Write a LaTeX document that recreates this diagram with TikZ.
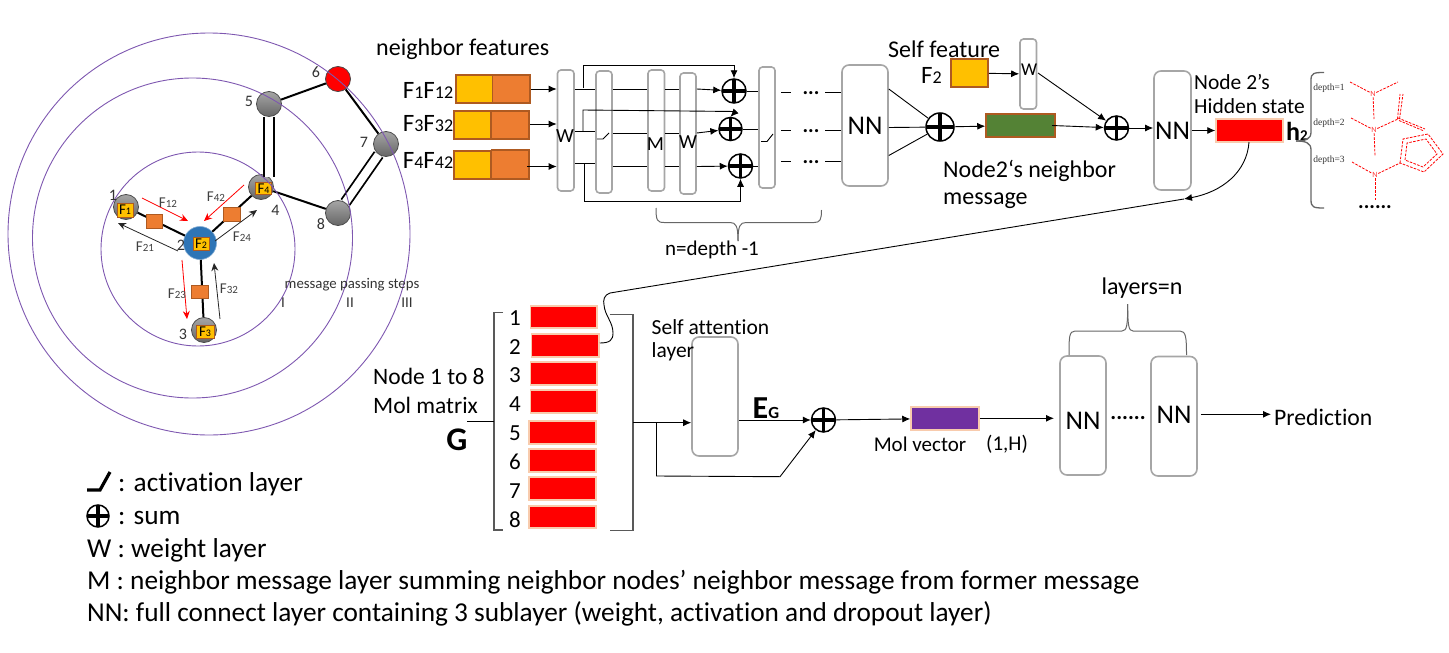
\documentclass[tikz,border=0pt]{standalone}
\usepackage{fontspec}
\setmainfont{Carlito}[Ligatures={NoCommon,NoContextual}]
\newfontfamily\serifsm{Liberation Serif}
\usetikzlibrary{arrows.meta,calc}
\definecolor{gold}{HTML}{FFC000}
\definecolor{orng}{HTML}{ED7D31}
\definecolor{brn}{HTML}{AE5A21}
\definecolor{grn}{HTML}{548235}
\definecolor{purp}{HTML}{7030A0}
\definecolor{peach}{HTML}{F8CBAD}
\definecolor{ringc}{HTML}{7E57B0}
\definecolor{boxg}{HTML}{A6A6A6}
\definecolor{blu}{HTML}{2E75B6}
\newcommand\fs[2]{{\fontsize{#1}{#1}\selectfont #2}}
\newcommand\bx[7]{\pgfmathsetmacro\bxw{#5-#3}\pgfmathsetmacro\bxh{#6-#4}\pgfmathsetmacro\bxcx{(#3+#5)/2}\pgfmathsetmacro\bxcy{(#4+#6)/2}\node[#2,minimum width=\bxw pt,minimum height=\bxh pt,inner sep=0pt] (#1) at (\bxcx,\bxcy) {#7};}
\tikzset{
 arr/.style={-{Latex[length=8pt,width=7pt]},line width=.9pt},
 thin line/.style={line width=.9pt},
 sarr/.style={-{Stealth[length=8pt,width=7pt]},line width=.8pt},
 layerbox/.style={draw=boxg,line width=1.6pt,rounded corners=3.5pt,fill=white},
 nnbox/.style={draw=boxg,line width=1.6pt,rounded corners=7pt,fill=white},
 yel/.style={draw=brn,line width=1.5pt,fill=gold},
 ora/.style={draw=brn,line width=1.5pt,fill=orng},
 redbar/.style={draw=peach,line width=1.5pt,fill=red},
 atom/.style={circle,draw=black!70,line width=.8pt,top color=black!35,bottom color=black!60,minimum size=25pt,inner sep=0pt},
 ftag/.style={draw=brn,line width=.6pt,fill=gold,inner sep=0pt},
 bond/.style={line width=2pt},
 dbond/.style={line width=1.8pt,double=white,double distance=8pt},
 msq/.style={draw=brn,line width=.6pt,fill=orng,inner sep=0pt},
 ring/.style={circle,draw=ringc,line width=.9pt,inner sep=0pt},
 sumnode/.style={circle,draw=black,line width=1.5pt,fill=white,inner sep=0pt,minimum size=#1,
   path picture={\draw[line width=3.2pt] (path picture bounding box.west)--(path picture bounding box.east);
   \draw[line width=3.2pt] (path picture bounding box.north)--(path picture bounding box.south);}},
 lab/.style={inner sep=0pt,font=\fontsize{21.5}{23}\selectfont},
 bigl/.style={inner sep=0pt,font=\fontsize{24}{26}\selectfont},
 leg/.style={inner sep=0pt,anchor=west,font=\fontsize{27.3}{30}\selectfont},
 smlab/.style={inner sep=0pt,font=\fontsize{15}{17}\selectfont,text=black!80},
 flab/.style={inner sep=0pt,font=\fontsize{15}{17}\selectfont,text=black!75},
 deplab/.style={inner sep=0pt,font=\serifsm\fontsize{9.5}{11}\selectfont,text=black!80},
 mol/.style={draw=red,dashed,dash pattern=on 2.6pt off 1.3pt,line width=.8pt},
 brc/.style={draw=black!60,line width=1.3pt},
}
\begin{document}
\begin{tikzpicture}[x=1pt,y=-1pt]
\useasboundingbox (0,0) rectangle (1449,653);
% ---- molecule graph
\node[atom,fill=red,top color=red,bottom color=red] (a6) at (338,79) {};
\node[atom] (a5) at (269,104) {};
\node[atom] (a7) at (386,144) {};
\node[atom] (a8) at (338,213) {};
\node[atom] (a4) at (261,187) {};
\node[atom] (a1) at (126,207) {};
\node[atom] (a3) at (204,330) {};
\node[circle,fill=blu,draw=blu!60,line width=.6pt,minimum size=33pt,inner sep=0pt] (a2) at (200,243) {};
\draw[bond] (a5)--(a6);
\draw[bond] (a6)--(a7);
\draw[bond] (a4)--(a8);
\draw[dbond] (a5.south)--($(a5.south |- a4.north)+(0,3)$);
\draw[dbond] (a7)--(a8);
\draw[bond] (a1)--(a2);
\draw[bond] (a4)--(a2);
\draw[bond] (a2)--(a3);
\bx{m1}{msq}{146}{214}{162.5}{228.5}{}
\bx{m2}{msq}{223.5}{207}{240.5}{221}{}
\bx{m3}{msq}{191.5}{285.5}{208.5}{298.5}{}
\bx{t1}{ftag}{117}{203}{133}{217}{\fs{15}{F\fs{10}{1}}}
\bx{t2}{ftag}{193}{237}{209}{250}{\fs{15}{F\fs{10}{2}}}
\bx{t3}{ftag}{196}{325}{214}{338}{\fs{15}{F\fs{10}{3}}}
\bx{t4}{ftag}{255.5}{182.5}{271.5}{194}{\fs{15}{F\fs{10}{4}}}
\node[ring,minimum size=194pt] (c1) at (198,249) {};
\node[ring,minimum size=320pt] (c2) at (192.5,238) {};
\node[ring,minimum size=402pt] (c3) at (209,234) {};
\foreach \n/\x/\y in {1/113/195,2/181/245,3/183/334,4/275.5/210,5/249/101,6/316/72,7/364/142,8/321/224}
  \node[smlab,font=\fontsize{16}{17}\selectfont] (num\n) at (\x,\y) {\n};
\coordinate (f12a) at (142,198); \coordinate (f12b) at (188,221);
\coordinate (f42a) at (244,185); \coordinate (f42b) at (204,221);
\coordinate (f21a) at (178,251); \coordinate (f21b) at (118,223);
\coordinate (f24a) at (215,241); \coordinate (f24b) at (257,210);
\coordinate (f23a) at (182,260); \coordinate (f23b) at (187,319);
\coordinate (f32a) at (220,319); \coordinate (f32b) at (214,263);
\draw[sarr,red] (f12a)--(f12b);
\draw[sarr,red] (f42a)--(f42b);
\draw[sarr,red] (f23a)--(f23b);
\draw[sarr,black!85] (f21a)--(f21b);
\draw[sarr,black!85] (f24a)--(f24b);
\draw[sarr,black!85] (f32a)--(f32b);
\node[flab] (lf12) at (168,203) {F\fs{11}{12}};
\node[flab] (lf42) at (216,197) {F\fs{11}{42}};
\node[flab] (lf21) at (145,247) {F\fs{11}{21}};
\node[flab] (lf24) at (242,237) {F\fs{11}{24}};
\node[flab] (lf23) at (177,294) {F\fs{11}{23}};
\node[flab] (lf32) at (229,289) {F\fs{11}{32}};
\node[smlab,font=\fontsize{14.8}{17}\selectfont] (mps) at (352,285) {message passing steps};
\node[smlab] (s1) at (283,303) {I};
\node[smlab] (s2) at (350,303) {II};
\node[smlab] (s3) at (407,303) {III};
% ---- neighbour features
\node[bigl,anchor=west] (nf) at (376,49.5) {neighbor features};
\node[bigl,font=\fontsize{25}{26}\selectfont] (ff1) at (428,90) {F\fs{18}{1}F\fs{18}{12}};
\node[bigl,font=\fontsize{25}{26}\selectfont] (ff3) at (428,123.5) {F\fs{18}{3}F\fs{18}{32}};
\node[bigl,font=\fontsize{25}{26}\selectfont] (ff4) at (428,160.5) {F\fs{18}{4}F\fs{18}{42}};
\bx{y1}{yel}{456}{75}{492.5}{103}{}
\bx{o1}{ora}{492.5}{75}{530}{103}{}
\bx{y3}{yel}{454}{111}{491}{139}{}
\bx{o3}{ora}{491}{111}{529}{139}{}
\bx{y4}{yel}{454}{151}{491}{179}{}
\bx{o4}{ora}{491.5}{150}{529}{179}{}
% layers
\bx{w1}{layerbox}{557.5}{70}{574}{191}{}
\bx{ac1}{layerbox}{596}{71}{612}{193}{}
\bx{mm}{layerbox}{648}{70}{664.5}{191}{}
\bx{w2}{layerbox}{680}{73}{696}{194}{}
\bx{ac2}{layerbox}{759}{67}{775}{188}{}
\node[lab,font=\fontsize{20}{22}\selectfont] (tw1) at (565,136) {W};
\node[lab,font=\fontsize{20}{22}\selectfont] (tm) at (655.5,144) {M};
\node[lab,font=\fontsize{20}{22}\selectfont] (tw2) at (688,142) {W};
\node[sumnode=24pt] (p1) at (734,91) {};
\node[sumnode=23pt] (p2) at (730.5,129) {};
\node[sumnode=24pt] (p3) at (740.5,166) {};
\coordinate (r1) at (0,89); \coordinate (r2) at (0,133); \coordinate (r3) at (0,166.5);
\coordinate (ri2) at (0,124);
\coordinate (o4s) at (527,166.5);
\draw[arr] (o1.east |- r1)--(w1.west |- r1);
\draw[arr] (o3.east |- ri2)--(w1.west |- ri2);
\draw[arr] (o4s)--(w1.west |- o4s);
\draw[thin line] (w1.east |- r1)--(ac1.west |- r1);
\draw[thin line] (w1.east |- 0,131)--(ac1.west |- 0,131);
\draw[thin line] (w1.east |- 0,163)--(ac1.west |- 0,163);
\foreach \r in {r1,r2,r3}{
 \draw[thin line] (ac1.east |- \r)--(mm.west |- \r);
 \draw[thin line] (mm.east |- \r)--(w2.west |- \r);
}
\draw[arr] (w2.east |- r1)--(p1);
\draw[arr] (w2.east |- r2)--(p2);
\draw[arr] (w2.east |- r3)--(p3);
\draw[thin line] (p1.east)--(ac2.west |- p1.east);
\draw[thin line] (p2.east)--(ac2.west |- p2.east);
\draw[thin line] (p3.east)--(ac2.west |- p3.east);
% skip connections
\coordinate (sk1) at (583,88); \coordinate (sk1t) at (583,65.5);
\coordinate (sk2) at (583,131); \coordinate (sk2t) at (583,110);
\coordinate (sk3) at (584,163); \coordinate (sk3t) at (584,201);
\draw[arr] (sk1)--(sk1t)--(sk1t -| p1.north)--(p1.north);
\draw[arr] (sk2)--(sk2t)--(735.5,111.5)--(p2.north);
\draw[arr] (sk3)--(sk3t)--(sk3t -| p3.south)--(p3.south);
% activation glyphs
\coordinate (g1a) at (597,139); \coordinate (g1b) at (603,139); \coordinate (g1c) at (609,133);
\coordinate (g2a) at (761,141.5); \coordinate (g2b) at (767,141.5); \coordinate (g2c) at (773,134);
\draw[thin line] (g1a)--(g1b)--(g1c);
\draw[thin line] (g2a)--(g2b)--(g2c);
% dashes and dots
\bx{nn1}{nnbox}{842}{65}{888}{186}{\fs{27}{NN}}
\foreach \i/\y in {1/92,2/130,3/161}{
 \coordinate (da\i) at (781,\y); \coordinate (db\i) at (791,\y); \coordinate (dc\i) at (825,\y);
 \draw[thin line] (da\i)--(db\i);
 \draw[thin line] (dc\i)--(nn1.west |- dc\i);
 \node[inner sep=0pt,font=\bfseries\fontsize{21}{21}\selectfont] (dt\i) at (811,\y+1.5) {...};
}
% depth brace
\coordinate (bl) at (656,208); \coordinate (bt) at (738,241); \coordinate (br) at (821.5,210);
\draw[brc,line width=1pt] (bl) .. controls (656,220) and (657,222.5) .. (664,222.5) -- (730,222.5) .. controls (736,222.5) and (738,226) .. (bt);
\draw[brc,line width=1pt] (br) .. controls (821.5,220) and (820,222.5) .. (814,222.5) -- (746,222.5) .. controls (740,222.5) and (738,226) .. (bt);
\node[lab,font=\fontsize{21}{22}\selectfont] (nd) at (712,250) {n=depth -1};
% self feature
\node[bigl,anchor=west] (sf) at (888,49) {Self feature};
\node[bigl,font=\fontsize{25}{26}\selectfont] (f2l) at (931.5,75) {F\fs{18}{2}};
\bx{y2}{yel}{951}{59}{988}{87}{}
\bx{ws}{layerbox}{1020}{39}{1036.5}{109}{}
\node[lab,font=\fontsize{18}{20}\selectfont] (tws) at (1029,70) {W};
\node[sumnode=28pt] (p4) at (940,127) {};
\bx{gm}{draw=brn,line width=1.5pt,fill=grn}{986}{114}{1055}{137}{}
\node[sumnode=24pt] (p5) at (1116.5,128) {};
\bx{nn2}{nnbox}{1154}{71}{1191}{190}{\fs{27}{NN}}
\bx{hs}{redbar}{1216}{119}{1283}{142}{}
\draw[thin line] (nn1.east |- 0,89)--(p4);
\draw[thin line] (nn1.east |- 0,127.5)--(p4);
\draw[thin line] (nn1.east |- 0,155.5)--(p4);
\draw[arr] (p4)--(gm);
\draw[arr] (gm.center -| 1052,0)--(p5);
\draw[arr] (y2)--(ws);
\draw[arr] (1038,73)--(p5);
\draw[arr] (p5)--(p5 -| nn2.west);
\draw[arr] (nn2.east |- hs)--(hs);
\node[bigl,anchor=west] (nm1) at (943,171) {Node2‘s neighbor};
\node[bigl,anchor=west] (nm2) at (943,201) {message};
\node[lab,anchor=west] (hs1) at (1194,82) {Node 2’s};
\node[lab,anchor=west] (hs2) at (1194,106) {Hidden state};
\node[inner sep=0pt,anchor=west,font=\bfseries\fontsize{26}{28}\selectfont] (h2) at (1286,131) {h\fs{15}{2}};
% brace + substructures
\coordinate (bt1) at (1324,72.5); \coordinate (btip) at (1296,141); \coordinate (bb1) at (1324,208);
\draw[brc] (bt1) .. controls (1314,72.5) and (1311,73) .. (1311,80) -- (1311,132) .. controls (1311,139) and (1306,141) .. (btip);
\draw[brc] (bb1) .. controls (1314,208) and (1311,207.5) .. (1311,200) -- (1311,150) .. controls (1311,143) and (1306,141) .. (btip);
\node[deplab] (d1) at (1329,88) {depth=1};
\node[deplab] (d2) at (1329,123) {depth=2};
\node[deplab] (d3) at (1329,160) {depth=3};
\node[inner sep=.5pt,font=\fontsize{8}{8}\selectfont,text=red!80] (n1) at (1373,94) {N};
\node[inner sep=.5pt,font=\fontsize{8}{8}\selectfont,text=red!80] (n2) at (1374,130) {N};
\node[inner sep=.5pt,font=\fontsize{8}{8}\selectfont,text=red!80] (n3) at (1375,175) {N};
\draw[mol] (1350,82)--(n1);
\draw[mol] (n1)--(1398,82);
\draw[mol] (n1)--(1374,119);
\draw[mol] (1351,118)--(n2);
\draw[mol] (n2)--(1398,119);
\draw[mol] (n2)--(1375,156);
\draw[mol] (1397.5,119)--(1400,94) (1399.5,119)--(1403,94);
\draw[mol] (1398,118)--(1425,129) (1399,120.5)--(1424,131);
\draw[mol] (1352,162)--(n3);
\draw[mol] (n3)--(1400,163);
\draw[mol] (n3)--(1375,200);
\draw[mol] (1400,163)--(1403,139)--(1428,134)--(1443,154)--(1424,172)--cycle;
\draw[mol] (1405,160)--(1407,143)--(1426,139)--(1437,154)--(1423,167)--cycle;
\node[inner sep=0pt,font=\bfseries\fontsize{21}{21}\selectfont] (dd) at (1375,207) {......};
% mol matrix
\node[lab,font=\fontsize{23.5}{24}\selectfont,anchor=west] (nm) at (373,376) {Node 1 to 8};
\node[lab,font=\fontsize{23.5}{24}\selectfont,anchor=west] (mm2) at (373,405) {Mol matrix};
\node[inner sep=0pt,font=\bfseries\fontsize{33}{35}\selectfont] (gg) at (457,440) {G};
\coordinate (lb1) at (503,312.5); \coordinate (lb2) at (494,312.5); \coordinate (lb3) at (494,530); \coordinate (lb4) at (503,530);
\draw[line width=1.2pt,black!65] (lb1)--(lb2)--(lb3)--(lb4);
\coordinate (rb1) at (609.5,314.5); \coordinate (rb2) at (633,314.5); \coordinate (rb3) at (633,530.5); \coordinate (rb4) at (609.5,530.5);
\draw[line width=1.2pt,black!65] (rb1)--(rb2)--(rb3)--(rb4);
\bx{v1}{redbar}{530.5}{306}{597}{328}{}
\bx{v2}{redbar}{531.5}{334}{599}{357}{}
\bx{v3}{redbar}{530.5}{362}{597}{385}{}
\bx{v4}{redbar}{530.5}{390}{597}{413}{}
\bx{v5}{redbar}{529}{421}{596}{444}{}
\bx{v6}{redbar}{529}{449}{596}{472}{}
\bx{v7}{redbar}{529}{477}{596}{500}{}
\bx{v8}{redbar}{529}{506}{596}{528}{}
\foreach \n/\y in {1/318,2/347,3/375.5,4/404,5/433,6/462,7/491,8/520}
  \node[lab,font=\fontsize{23}{24}\selectfont] (vn\n) at (515,\y) {\n};
\coordinate (gl) at (467,421);
\draw[thin line] (gl)--(gl -| lb2);
% hidden state feed
\coordinate (hsb) at (1249,142); \coordinate (bend) at (1184,199);
\coordinate (q0) at (610,293);
\draw[arr] (hsb) .. controls (1247,172) and (1222,192) .. (bend);
\draw[thin line] (bend)--(q0) .. controls (604,295) and (603,300) .. (604,305) .. controls (605,316) and (613,322) .. (613,333) .. controls (613,340) and (610,343) .. (v2.east |- 0,343);
% attention
\bx{sa}{nnbox}{692}{337}{738}{456}{}
\node[lab,anchor=west] (sat) at (651.5,327) {Self attention};
\node[lab,anchor=west] (sal) at (651.5,352) {layer};
\node[inner sep=0pt,font=\bfseries\fontsize{32}{34}\selectfont,anchor=west] (eg) at (752.5,408) {E\fs{17}{G}};
\node[sumnode=24pt] (p6) at (823.5,420) {};
\coordinate (rj) at (633,422.7); \coordinate (rk) at (656.5,422.7); \coordinate (rl) at (656.5,476); \coordinate (rm) at (780,476.7);
\draw[arr] (rj)--(sa.west |- rj);
\draw[arr] (rk)--(rl)--(rm)--(p6);
\draw[arr] (sa.east |- p6)--(p6);
\bx{mv}{redbar,fill=purp}{911}{407}{979}{430}{}
\draw[arr] (p6)--(mv);
\node[inner sep=0pt,font=\fontsize{21}{22}\selectfont] (mvt) at (920,444) {Mol vector};
\node[inner sep=0pt,font=\fontsize{21}{22}\selectfont] (mvs) at (1007,444) {(1,H)};
\bx{nn3}{nnbox}{1060}{356}{1106}{475}{}
\bx{nn4}{nnbox}{1151}{356.5}{1197}{476}{}
\node[lab,font=\fontsize{27}{28}\selectfont] (nn3t) at (1083,420.5) {NN};
\node[lab,font=\fontsize{27}{28}\selectfont] (nn4t) at (1174,415) {NN};
\node[inner sep=0pt,font=\bfseries\fontsize{22}{22}\selectfont] (ddd) at (1128,418) {......};
\draw[arr] (mv.east |- 0,418.3)--(1054,418.3);
\coordinate (pr) at (1271,414.3);
\draw[arr] (nn4.east |- pr)++(3,0)--(pr);
\node[lab,font=\fontsize{23.7}{25}\selectfont,anchor=west] (pred) at (1274,417) {Prediction};
\node[bigl] (lay) at (1142,288) {layers=n};
\coordinate (lbl) at (1069,355); \coordinate (lbt) at (1127.7,304); \coordinate (lbr) at (1186.5,355);
\draw[brc,line width=1pt] (lbl) .. controls (1069,338) and (1069,331) .. (1075,331) -- (1122,331) .. controls (1127,331) and (1127.7,325) .. (lbt);
\draw[brc,line width=1pt] (lbr) .. controls (1186.5,338) and (1186,331) .. (1180,331) -- (1133,331) .. controls (1128.5,331) and (1127.7,325) .. (lbt);
% legend
\coordinate (la) at (87,490); \coordinate (lb) at (100,490); \coordinate (lc) at (110,472);
\draw[line width=3.2pt] (la)--(lb)--(lc);
\node[leg] (l1) at (118,484.5) {: activation layer};
\node[sumnode=22pt] (lp) at (98,516) {};
\node[leg] (l2) at (118,517.5) {: sum};
\node[leg] (l3) at (87,550.5) {W : weight layer};
\node[leg] (l4) at (87,582) {M : neighbor message layer summing neighbor nodes’ neighbor message from former message};
\node[leg] (l5) at (87,614) {NN: full connect layer containing 3 sublayer (weight, activation and dropout layer)};
\end{tikzpicture}
\end{document}
